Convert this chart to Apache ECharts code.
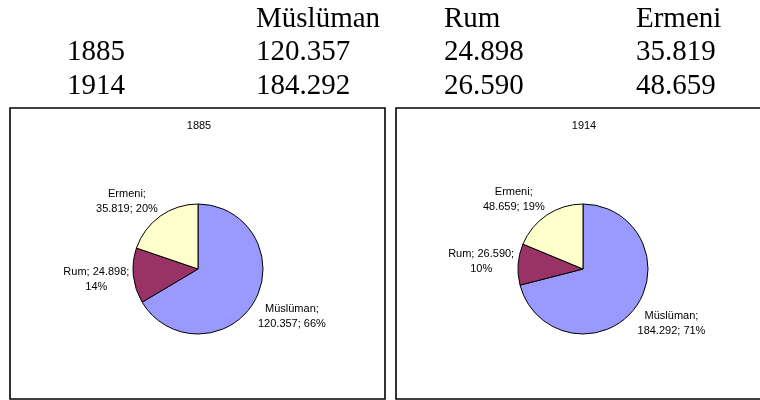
<!DOCTYPE html>
<html><head><meta charset="utf-8">
<script src="https://cdn.jsdelivr.net/npm/echarts@6/dist/echarts.min.js"></script>
<style>html,body{margin:0;padding:0;background:#fff}#c{width:760px;height:400px}</style>
</head><body><div id="c"></div>
<script>
// ---- data ----
const groups = ['Müslüman', 'Rum', 'Ermeni'];
const years = ['1885', '1914'];
const values1885 = [120357, 24898, 35819];
const values1914 = [184292, 26590, 48659];
const sliceColors = ['#9999FF', '#993366', '#FFFFCC'];

// ---- helpers ----
function fmt(n) { return String(n).replace(/\B(?=(\d{3})+(?!\d))/g, '.'); }
const allValues = [values1885, values1914];

// layout constants
const pieCenters = [[198, 269], [583, 269]];
const pieRadius = 65;
const colX = [67, 256, 444, 636];
const rowY = [19, 52, 86];
const serif = '"Liberation Serif", "Times New Roman", serif';
const sans = '"Liberation Sans", Arial, sans-serif';

// table text
const graphics = [];
groups.forEach((g, i) => {
  graphics.push({ type: 'text', style: { text: g, x: colX[i + 1], y: rowY[0], fontFamily: serif, fontSize: 29, fill: '#000', verticalAlign: 'middle' } });
});
years.forEach((y, r) => {
  graphics.push({ type: 'text', style: { text: y, x: colX[0], y: rowY[r + 1], fontFamily: serif, fontSize: 29, fill: '#000', verticalAlign: 'middle' } });
  allValues[r].forEach((v, i) => {
    graphics.push({ type: 'text', style: { text: fmt(v), x: colX[i + 1], y: rowY[r + 1], fontFamily: serif, fontSize: 29, fill: '#000', verticalAlign: 'middle' } });
  });
});
// chart frames
graphics.push({ type: 'rect', shape: { x: 10, y: 108, width: 375, height: 291 }, style: { fill: 'none', stroke: '#000', lineWidth: 1.6 } });
graphics.push({ type: 'rect', shape: { x: 396, y: 108, width: 375, height: 291 }, style: { fill: 'none', stroke: '#000', lineWidth: 1.6 } });

function midDir(vals, idx) {
  const total = vals.reduce((a, b) => a + b, 0);
  let cum = 0;
  for (let k = 0; k < idx; k++) cum += vals[k];
  const frac = (cum + vals[idx] / 2) / total;
  const th = frac * 2 * Math.PI;
  return [Math.sin(th), -Math.cos(th)];
}
function clamp(v) { return Math.max(-1, Math.min(1, v)); }

function makePie(s) {
  const vals = allValues[s];
  const c = pieCenters[s];
  return {
    type: 'pie',
    center: c,
    radius: pieRadius,
    startAngle: 90,
    clockwise: true,
    avoidLabelOverlap: false,
    percentPrecision: 0,
    silent: true,
    data: groups.map((g, i) => ({ name: g, value: vals[i], itemStyle: { color: sliceColors[i] } })),
    itemStyle: { borderColor: '#000', borderWidth: 1 },
    label: {
      show: true,
      position: 'outside',
      fontFamily: sans,
      fontSize: 11,
      lineHeight: 15,
      color: '#000',
      formatter: p => p.dataIndex === 1
        ? p.name + '; ' + fmt(p.value) + ';\n' + p.percent + '%'
        : p.name + ';\n' + fmt(p.value) + '; ' + p.percent + '%'
    },
    labelLine: { show: false },
    labelLayout: params => {
      const d = midDir(vals, params.dataIndex);
      const ax = c[0] + d[0] * (pieRadius + 4);
      const ay = c[1] + d[1] * pieRadius;
      const w = params.labelRect.width, h = params.labelRect.height;
      return {
        x: ax + (w / 2) * clamp(d[0] * 2.5),
        y: ay + (h / 2) * clamp(d[1] * 2.5),
        align: 'center',
        verticalAlign: 'middle'
      };
    }
  };
}

const chart = echarts.init(document.getElementById('c'), null, { renderer: 'canvas' });
chart.setOption({
  animation: false,
  backgroundColor: '#fff',
  title: years.map((y, s) => ({
    text: y,
    left: pieCenters[s][0] + 1,
    top: 120,
    padding: 0,
    textAlign: 'center',
    textStyle: { fontFamily: sans, fontSize: 11, fontWeight: 'normal', color: '#000' }
  })),
  graphic: graphics,
  series: [makePie(0), makePie(1)]
});
</script>
</body></html>
